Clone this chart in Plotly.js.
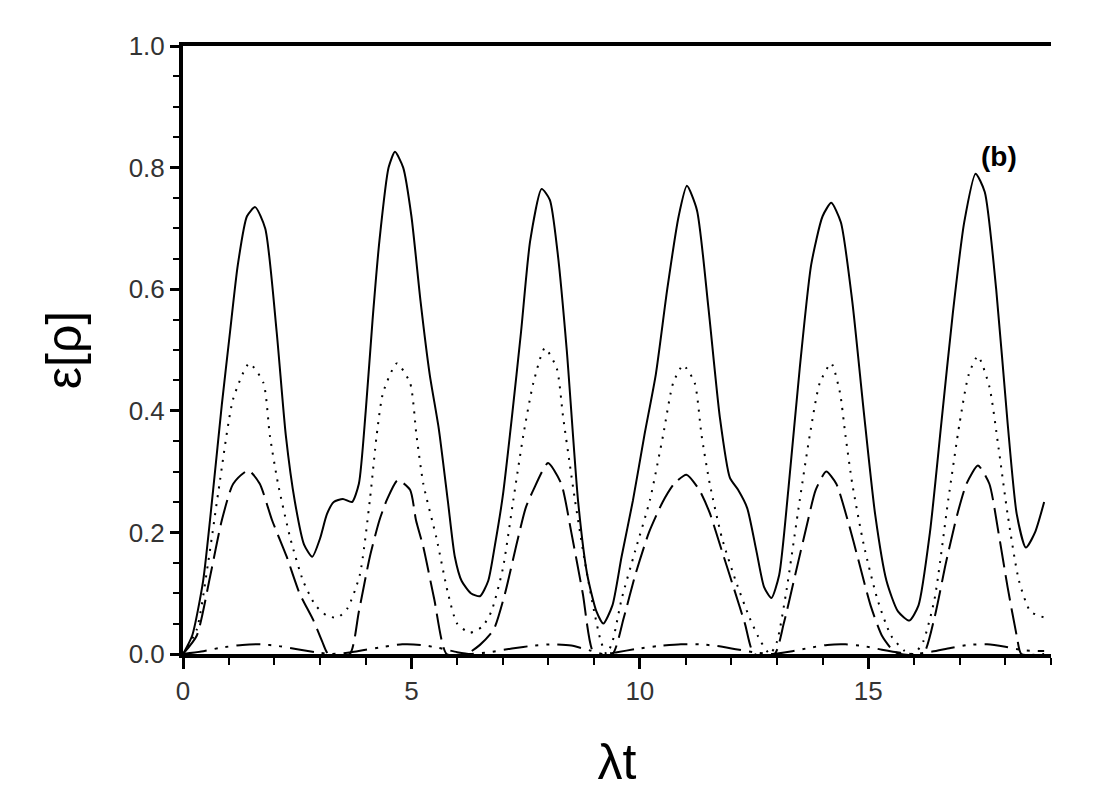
<!DOCTYPE html>
<html>
<head>
<meta charset="utf-8">
<script src="https://cdn.plot.ly/plotly-3.0.1.min.js"></script>
<style>html,body{margin:0;padding:0;background:#fff;}#chart{width:1097px;height:806px;}</style>
</head>
<body>
<div id="chart"></div>
<script>
// Solid curve
const solidX = [0,0.2,0.44,0.66,0.85,1.03,1.2,1.4,1.58,1.8,2.05,2.25,2.45,2.65,2.83,3.0,3.15,3.3,3.5,3.7,3.85,4.0,4.15,4.3,4.5,4.64,4.82,5.0,5.2,5.4,5.6,5.8,5.95,6.1,6.3,6.5,6.68,6.83,7.0,7.2,7.4,7.6,7.85,8.03,8.2,8.4,8.65,8.85,9.05,9.2,9.4,9.6,9.85,10.1,10.35,10.6,10.85,11.03,11.25,11.5,11.75,11.97,12.15,12.35,12.55,12.72,12.88,13.05,13.25,13.5,13.75,14.0,14.19,14.4,14.65,14.9,15.15,15.4,15.65,15.9,16.1,16.35,16.6,16.85,17.1,17.35,17.55,17.8,18.05,18.25,18.45,18.65,18.85];
const solidY = [0,0.03,0.12,0.27,0.41,0.53,0.64,0.72,0.735,0.7,0.53,0.36,0.25,0.18,0.16,0.19,0.23,0.25,0.255,0.25,0.28,0.4,0.55,0.68,0.8,0.826,0.8,0.72,0.58,0.46,0.37,0.25,0.16,0.12,0.1,0.095,0.12,0.18,0.26,0.39,0.53,0.68,0.765,0.747,0.66,0.5,0.25,0.13,0.07,0.05,0.08,0.16,0.253,0.36,0.46,0.6,0.72,0.77,0.73,0.57,0.39,0.29,0.27,0.24,0.17,0.11,0.092,0.13,0.27,0.47,0.64,0.72,0.742,0.71,0.58,0.4,0.23,0.12,0.07,0.055,0.08,0.2,0.38,0.56,0.71,0.79,0.76,0.6,0.38,0.23,0.175,0.2,0.25];
// Dotted curve
const dotX = [0,0.3,0.55,0.78,1.1,1.45,1.76,1.9,2.08,2.35,2.63,2.9,3.15,3.38,3.6,3.87,4.09,4.24,4.38,4.68,4.97,5.11,5.26,5.55,5.8,6.0,6.28,6.55,6.75,7.0,7.23,7.45,7.67,7.92,8.18,8.32,8.47,8.58,8.8,9.0,9.15,9.27,9.4,9.6,9.9,10.22,10.51,10.73,10.95,11.2,11.35,11.53,11.8,12.1,12.4,12.65,12.85,13.0,13.2,13.5,13.72,13.94,14.19,14.38,14.5,14.65,14.9,15.2,15.5,15.8,16.0,16.2,16.45,16.75,17.0,17.2,17.4,17.65,17.85,18.05,18.3,18.55,18.85];
const dotY = [0,0.04,0.15,0.27,0.42,0.478,0.446,0.36,0.28,0.19,0.12,0.08,0.063,0.06,0.075,0.13,0.253,0.36,0.43,0.478,0.446,0.36,0.28,0.19,0.1,0.05,0.035,0.045,0.07,0.14,0.253,0.36,0.446,0.503,0.47,0.39,0.31,0.253,0.15,0.07,0.02,0,0.02,0.09,0.17,0.253,0.36,0.446,0.475,0.446,0.36,0.28,0.19,0.12,0.06,0.02,0,0.02,0.1,0.253,0.36,0.446,0.478,0.43,0.36,0.28,0.18,0.09,0.03,0.005,0,0.02,0.09,0.253,0.38,0.46,0.49,0.44,0.34,0.23,0.12,0.07,0.06];
// Dashed curve
const dashX = [0,0.3,0.6,0.85,1.1,1.43,1.68,1.95,2.27,2.55,2.85,3.05,3.18,3.65,3.85,4.09,4.3,4.46,4.7,4.97,5.1,5.26,5.5,5.77,6.2,6.5,6.8,7.05,7.3,7.5,7.67,7.99,8.28,8.5,8.75,9.0,9.4,9.65,9.9,10.2,10.5,10.75,11.02,11.3,11.53,11.79,12.05,12.3,12.5,12.95,13.15,13.4,13.65,13.85,14.08,14.3,14.55,14.8,15.05,15.3,15.55,15.7,16.2,16.45,16.7,16.95,17.15,17.4,17.65,17.85,18.05,18.25,18.35,18.85];
const dashY = [0,0.03,0.13,0.22,0.28,0.302,0.28,0.22,0.16,0.1,0.056,0.02,0,0,0.07,0.16,0.22,0.253,0.286,0.27,0.22,0.176,0.09,0,0,0.015,0.04,0.1,0.18,0.24,0.27,0.314,0.28,0.2,0.1,0,0,0.06,0.13,0.2,0.25,0.28,0.295,0.27,0.232,0.171,0.11,0.05,0,0,0.05,0.13,0.21,0.27,0.3,0.28,0.22,0.15,0.08,0.03,0.005,0,0,0.06,0.15,0.23,0.28,0.31,0.28,0.2,0.11,0.03,0,0];
// Dash-dot-dot curve
const ddX = [0,0.4,0.8,1.3,1.7,2.1,2.5,2.9,3.25,3.6,4.0,4.4,4.8,5.2,5.6,6.0,6.3,6.7,7.2,7.7,8.1,8.5,8.9,9.2,9.5,9.9,10.4,10.9,11.3,11.7,12.1,12.5,12.9,13.3,13.7,14.1,14.5,14.9,15.3,15.7,16.0,16.4,16.8,17.2,17.6,18.0,18.4,18.85];
const ddY = [0,0.004,0.01,0.015,0.016,0.013,0.008,0.003,0,0.002,0.007,0.012,0.016,0.015,0.01,0.003,0,0.003,0.009,0.014,0.016,0.014,0.006,0,0.003,0.008,0.013,0.016,0.016,0.013,0.008,0.003,0,0.004,0.01,0.015,0.016,0.013,0.007,0.002,0,0.004,0.01,0.015,0.016,0.012,0.006,0.005];

const xTickVals = [0,5,10,15];
const yTickVals = [0,0.2,0.4,0.6,0.8,1.0];
const yTickText = ['0.0','0.2','0.4','0.6','0.8','1.0'];

function tr(x,y,dash,w){return {x:x,y:y,mode:'lines',type:'scatter',line:{color:'#000',width:w,dash:dash,shape:'spline',smoothing:0.6},hoverinfo:'skip',showlegend:false};}

const data = [
  tr(solidX,solidY,'solid',2),
  tr(dotX,dotY,'2px,7px',2),
  tr(dashX,dashY,'26px,8px',2),
  tr(ddX,ddY,'24px,8px,3px,8px,3px,8px',2)
];

const tickFont = {family:'Liberation Sans, Arial, sans-serif',size:26,color:'#333'};
const layout = {
  width:1097,height:806,
  paper_bgcolor:'#fff',plot_bgcolor:'#fff',
  margin:{l:183,r:46,t:46,b:152},
  xaxis:{range:[0,19],tickvals:xTickVals,ticks:'outside',ticklen:11,tickwidth:3,tickcolor:'#000',
    showline:true,linewidth:4,linecolor:'#000',mirror:true,showgrid:false,zeroline:false,
    tickfont:tickFont,
    minor:{dtick:1,ticks:'outside',ticklen:7,tickwidth:2,tickcolor:'#000',showgrid:false},
    title:{text:'λt',font:{family:'Liberation Sans, Arial, sans-serif',size:50,color:'#000'},standoff:40}},
  yaxis:{range:[0,1.0],tickvals:yTickVals,ticktext:yTickText,ticks:'outside',ticklen:9,tickwidth:3,tickcolor:'#000',
    showline:true,linewidth:4,linecolor:'#000',mirror:false,showgrid:false,zeroline:false,
    tickfont:tickFont,
    minor:{dtick:0.05,ticks:'outside',ticklen:6,tickwidth:2,tickcolor:'#000',showgrid:false},
    title:{text:'ε[ρ]',font:{family:'Liberation Sans, Arial, sans-serif',size:50,color:'#000'},standoff:32}},
  annotations:[{xref:'paper',yref:'paper',x:0.94,y:0.818,xanchor:'center',yanchor:'middle',text:'<b>(b)</b>',showarrow:false,
    font:{family:'Liberation Sans, Arial, sans-serif',size:28,color:'#000'}}]
};
Plotly.newPlot('chart',data,layout,{displayModeBar:false,staticPlot:true});
</script>
</body>
</html>
